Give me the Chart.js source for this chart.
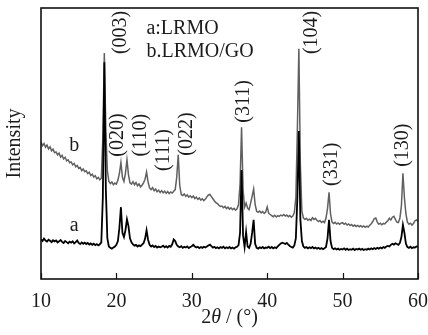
<!DOCTYPE html>
<html>
<head>
<meta charset="utf-8">
<script src="https://cdn.jsdelivr.net/npm/chart.js@4.4.1/dist/chart.umd.min.js"></script>
<style>
html,body{margin:0;padding:0;background:#fff;}
#wrap{width:428px;height:335px;}
</style>
</head>
<body>
<div id="wrap"><canvas id="c" width="428" height="335"></canvas></div>
<script>
// 2θ grid (degrees)
const twoTheta = [
10.0,10.2,10.4,10.6,10.8,11.0,11.2,11.4,11.6,11.8,
12.0,12.2,12.4,12.6,12.8,13.0,13.2,13.4,13.6,13.8,
14.0,14.2,14.4,14.6,14.8,15.0,15.2,15.4,15.6,15.8,
16.0,16.2,16.4,16.6,16.8,17.0,17.2,17.4,17.6,17.8,
18.0,18.2,18.4,18.6,18.8,19.0,19.2,19.4,19.6,19.8,
20.0,20.2,20.4,20.6,20.8,21.0,21.2,21.4,21.6,21.8,
22.0,22.2,22.4,22.6,22.8,23.0,23.2,23.4,23.6,23.8,
24.0,24.2,24.4,24.6,24.8,25.0,25.2,25.4,25.6,25.8,
26.0,26.2,26.4,26.6,26.8,27.0,27.2,27.4,27.6,27.8,
28.0,28.2,28.4,28.6,28.8,29.0,29.2,29.4,29.6,29.8,
30.0,30.2,30.4,30.6,30.8,31.0,31.2,31.4,31.6,31.8,
32.0,32.2,32.4,32.6,32.8,33.0,33.2,33.4,33.6,33.8,
34.0,34.2,34.4,34.6,34.8,35.0,35.2,35.4,35.6,35.8,
36.0,36.2,36.4,36.6,36.8,37.0,37.2,37.4,37.6,37.8,
38.0,38.2,38.4,38.6,38.8,39.0,39.2,39.4,39.6,39.8,
40.0,40.2,40.4,40.6,40.8,41.0,41.2,41.4,41.6,41.8,
42.0,42.2,42.4,42.6,42.8,43.0,43.2,43.4,43.6,43.8,
44.0,44.2,44.4,44.6,44.8,45.0,45.2,45.4,45.6,45.8,
46.0,46.2,46.4,46.6,46.8,47.0,47.2,47.4,47.6,47.8,
48.0,48.2,48.4,48.6,48.8,49.0,49.2,49.4,49.6,49.8,
50.0,50.2,50.4,50.6,50.8,51.0,51.2,51.4,51.6,51.8,
52.0,52.2,52.4,52.6,52.8,53.0,53.2,53.4,53.6,53.8,
54.0,54.2,54.4,54.6,54.8,55.0,55.2,55.4,55.6,55.8,
56.0,56.2,56.4,56.6,56.8,57.0,57.2,57.4,57.6,57.8,
58.0,58.2,58.4,58.6,58.8,59.0,59.2,59.4,59.6,59.8,
60.0
];

// a: LRMO (arbitrary intensity units)
const intensityA = [
14.6,14.0,14.9,14.2,13.8,14.5,14.1,13.6,14.3,13.9,
14.2,13.5,13.9,14.4,13.7,13.3,14.0,13.6,13.2,13.8,
13.4,13.9,13.1,13.6,14.2,13.3,12.9,13.5,13.0,13.4,
12.9,13.3,12.7,13.1,12.6,13.0,12.5,12.9,12.4,12.8,
13.5,30.0,80.0,33.0,15.0,12.0,11.5,11.2,11.6,12.0,
12.6,14.0,19.0,26.5,17.0,15.5,18.0,22.0,19.5,15.0,
13.5,12.8,12.3,12.6,12.0,12.4,12.1,12.7,13.2,14.8,
18.0,14.5,12.6,12.0,12.4,11.8,12.2,11.6,12.0,11.7,
11.9,12.3,11.7,12.1,11.6,12.2,11.9,12.8,14.6,14.0,
12.6,12.0,11.7,12.1,11.5,11.9,11.6,12.0,11.4,11.8,
12.1,12.6,12.0,11.6,11.9,11.4,11.8,11.5,11.9,11.6,
12.0,12.4,12.7,12.1,11.6,11.9,11.4,11.7,11.3,11.8,
11.5,11.9,11.3,11.7,11.4,11.8,11.3,11.6,11.2,11.7,
11.9,12.5,17.0,40.2,16.0,11.8,17.3,12.0,11.5,13.0,
17.0,21.8,13.0,11.5,11.2,11.7,11.4,11.8,11.3,11.6,
11.5,11.9,11.4,11.8,11.3,11.7,11.4,12.0,12.6,13.1,
13.4,13.2,12.9,13.3,12.7,12.2,11.8,11.6,12.4,15.0,
30.0,54.6,22.0,14.0,12.0,11.5,11.8,11.3,11.7,11.4,
11.8,11.3,11.6,11.2,11.5,11.1,11.4,11.0,11.3,11.8,
15.0,21.8,14.0,11.5,11.0,11.3,10.9,11.2,10.8,11.1,
10.9,11.3,10.8,11.2,10.7,11.0,10.8,11.2,10.7,11.1,
10.9,11.2,10.8,11.1,10.7,11.0,10.8,11.2,10.9,11.3,
11.0,11.4,11.1,11.5,11.2,11.6,11.3,11.8,11.5,12.0,
12.2,12.0,12.6,13.0,12.7,13.2,12.9,12.6,13.3,15.5,
20.0,17.0,13.0,11.8,11.5,11.9,11.4,11.7,11.6,12.0,
11.8
];

// b: LRMO/GO (offset, arbitrary units)
const intensityB = [
50.5,49.2,50.0,48.6,49.4,48.0,48.8,47.3,47.9,46.6,
46.9,45.8,46.4,45.0,45.6,44.3,44.9,43.6,44.0,42.9,
43.2,42.1,42.6,41.4,41.9,40.8,41.2,40.0,40.6,39.6,
39.9,38.9,39.4,38.2,38.7,37.6,38.1,37.0,37.5,36.6,
37.2,52.0,83.4,55.0,40.0,36.0,35.2,35.8,34.8,35.4,
35.0,36.5,39.0,43.0,37.5,36.0,39.0,44.0,38.5,35.5,
35.0,35.9,34.8,35.6,34.4,35.1,34.0,34.6,35.5,36.8,
39.5,35.8,33.6,33.0,33.7,32.6,33.2,32.2,32.8,31.9,
32.6,31.8,32.4,31.6,32.3,31.5,32.1,31.7,32.4,33.0,
37.5,45.8,34.5,31.2,30.8,31.4,30.5,31.0,30.2,30.7,
30.0,30.6,29.7,30.2,29.4,29.9,29.1,29.6,28.9,29.5,
30.3,31.0,31.2,30.4,29.6,28.8,28.2,27.8,27.2,26.8,
26.9,26.3,26.8,26.0,26.5,25.8,26.3,25.6,26.1,25.4,
25.9,27.5,35.0,56.0,33.0,26.5,28.0,26.2,25.6,28.0,
30.5,33.2,27.5,25.0,24.6,25.1,24.4,24.9,24.2,24.7,
26.6,24.2,23.8,23.4,23.0,23.5,22.9,23.4,23.1,23.6,
23.3,23.8,23.2,23.6,23.0,23.4,22.8,23.2,24.5,30.0,
55.0,85.0,42.0,25.0,22.5,22.0,22.4,21.7,22.1,21.6,
22.6,22.0,22.4,21.7,21.2,21.6,20.9,21.3,20.8,22.5,
26.0,32.0,24.0,21.0,20.5,20.9,20.3,20.7,20.2,20.6,
20.8,20.2,20.6,19.9,20.3,19.7,20.1,19.5,19.9,19.4,
19.8,19.3,19.7,19.2,19.6,19.1,19.5,19.2,19.8,20.4,
21.2,22.3,22.5,21.0,20.2,20.6,20.0,20.5,20.3,21.0,
21.5,22.4,21.8,22.8,23.1,22.0,21.0,20.8,22.5,27.0,
39.0,30.0,24.0,21.0,20.2,20.6,19.9,20.5,21.5,21.8,
21.2
];

// x-axis tick values
const xTicks = [10, 20, 30, 40, 50, 60];

// peak (hkl) labels and their anchor in data units (2θ, intensity)
const peakLabels = ['(003)', '(020)', '(110)', '(111)', '(022)', '(311)', '(104)', '(331)', '(130)'];
const peakLabelX = [20.45, 19.99, 23.10, 26.2, 29.25, 36.72, 45.71, 48.49, 57.88];
const peakLabelY = [91.0, 53.1, 53.1, 47.6, 53.5, 65.5, 91.0, 42.3, 49.4];

// legend lines and curve tags
const legendLines = ['a:LRMO', 'b.LRMO/GO'];
const curveTags = ['a', 'b'];

const serif = "'Liberation Serif', 'Times New Roman', serif";
const txt = '#1c1c1c';

const overlay = {
  id: 'overlay',
  afterDatasetsDraw(chart) {
    const {ctx, chartArea: ca, scales: {x, y}} = chart;
    ctx.save();
    // frame
    ctx.strokeStyle = '#111';
    ctx.lineWidth = 1.6;
    ctx.strokeRect(ca.left, ca.top, ca.right - ca.left, ca.bottom - ca.top);
    // inward ticks
    ctx.lineWidth = 1.2;
    xTicks.forEach(v => {
      const px = Math.round(x.getPixelForValue(v)) + 0.5;
      ctx.beginPath();
      ctx.moveTo(px, ca.bottom);
      ctx.lineTo(px, ca.bottom - 6);
      ctx.stroke();
    });
    ctx.fillStyle = txt;
    // hkl labels rotated
    ctx.font = '20px ' + serif;
    ctx.textAlign = 'center';
    ctx.textBaseline = 'middle';
    peakLabels.forEach((t, i) => {
      const px = x.getPixelForValue(peakLabelX[i]);
      const py = y.getPixelForValue(peakLabelY[i]);
      ctx.save();
      ctx.translate(px, py);
      ctx.rotate(-Math.PI / 2);
      ctx.fillText(t, 0, 1);
      ctx.restore();
    });
    // legend text
    ctx.textAlign = 'left';
    ctx.fillText(legendLines[0], x.getPixelForValue(23.98), y.getPixelForValue(92.4));
    ctx.fillText(legendLines[1], x.getPixelForValue(23.98), y.getPixelForValue(83.9));
    // curve tags
    ctx.textAlign = 'center';
    ctx.fillText(curveTags[0], x.getPixelForValue(14.4), y.getPixelForValue(19.6));
    ctx.fillText(curveTags[1], x.getPixelForValue(14.4), y.getPixelForValue(49.1));
    // x-axis title: 2θ / (°)
    const parts = [['2', '20px ' + serif], ['\u03B8', 'italic 20px ' + serif], [' / (\u00B0)', '20px ' + serif]];
    let w = 0;
    parts.forEach(p => { ctx.font = p[1]; w += ctx.measureText(p[0]).width; });
    let cx = (ca.left + ca.right) / 2 - w / 2;
    ctx.textAlign = 'left';
    parts.forEach(p => { ctx.font = p[1]; ctx.fillText(p[0], cx, 318); cx += ctx.measureText(p[0]).width; });
    ctx.restore();
  }
};

new Chart(document.getElementById('c'), {
  type: 'line',
  data: {
    datasets: [
      {
        label: 'a:LRMO',
        data: twoTheta.map((t, i) => ({x: t, y: intensityA[i]})),
        borderColor: '#000000',
        borderWidth: 1.8,
        pointRadius: 0,
        tension: 0,
        fill: false
      },
      {
        label: 'b.LRMO/GO',
        data: twoTheta.map((t, i) => ({x: t, y: intensityB[i]})),
        borderColor: '#606060',
        borderWidth: 1.5,
        pointRadius: 0,
        tension: 0,
        fill: false
      }
    ]
  },
  options: {
    responsive: false,
    animation: false,
    devicePixelRatio: 1,
    layout: {padding: {top: 8, right: 10, left: 0, bottom: 0}},
    plugins: {legend: {display: false}, tooltip: {enabled: false}},
    scales: {
      x: {
        type: 'linear',
        min: 10, max: 60,
        grid: {display: false},
        border: {display: false},
        afterBuildTicks(scale) { scale.ticks = xTicks.map(v => ({value: v})); },
        ticks: {
          color: txt,
          font: {family: serif, size: 20},
          padding: 3,
          maxRotation: 0,
          autoSkip: false
        },
        afterFit(scale) { scale.height = 56; scale.paddingLeft = 0; scale.paddingRight = 0; }
      },
      y: {
        type: 'linear',
        min: 0, max: 100,
        grid: {display: false},
        border: {display: false},
        ticks: {display: false},
        title: {
          display: true,
          text: 'Intensity',
          color: txt,
          font: {family: serif, size: 20},
          padding: {top: 3, bottom: 0}
        },
        afterFit(scale) { scale.width = 41; }
      }
    }
  },
  plugins: [overlay]
});
</script>
</body>
</html>
